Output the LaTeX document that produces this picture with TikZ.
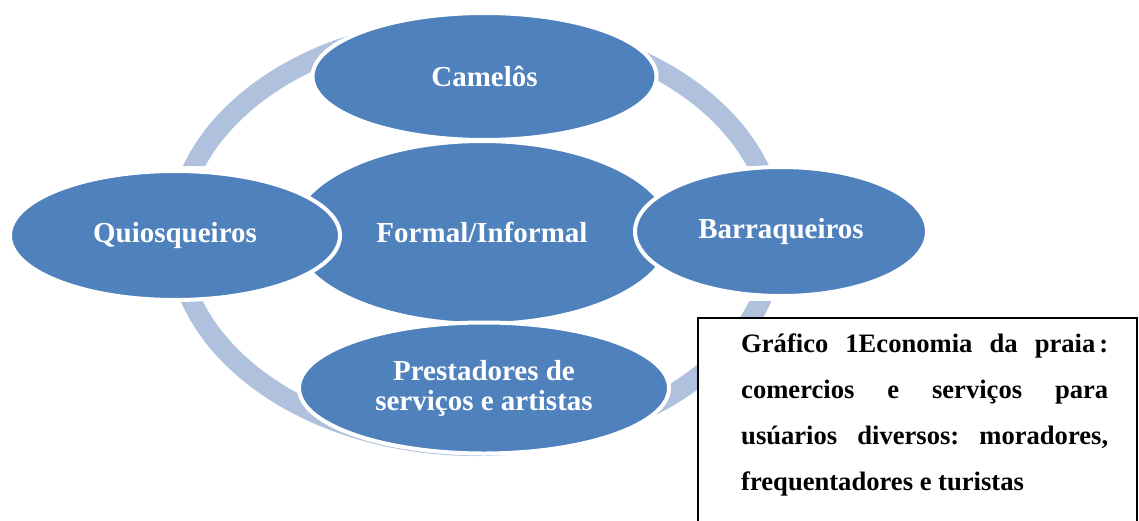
\documentclass[tikz,border=0pt]{standalone}
\usepackage{fontspec}
\setmainfont{Liberation Serif}
\usepackage{xcolor}
\usetikzlibrary{shapes.geometric}
\definecolor{bubbleblue}{HTML}{4F81BD}
\definecolor{ringblue}{HTML}{AFC1DD}
\tikzset{
  bubble/.style={ellipse, fill=bubbleblue, draw=white, line width=4pt, inner sep=0pt,
    text=white, align=center, font=\fontsize{29}{30}\selectfont\bfseries},
  legendbox/.style={draw=black, line width=1.5pt, fill=white}
}
\frenchspacing
\begin{document}
\begin{tikzpicture}[x=1pt,y=-1pt]
\useasboundingbox (0,0) rectangle (1139,520);
\begin{scope}
\clip (0,0) rectangle (1139,166) (0,301) rectangle (1139,520);
\draw[ringblue, line width=20pt] (476,236) ellipse [x radius=299pt, y radius=210pt];
\end{scope}
\node[bubble, minimum width=380pt, minimum height=183pt] (formal) at (482,232.5) {Formal/Informal};
\node[bubble, minimum width=344pt, minimum height=127pt] (camelos) at (484.5,76.5) {Camelôs};
\node[bubble, minimum width=330pt, minimum height=129pt] (quiosqueiros) at (175,235.5) {Quiosqueiros};
\node[bubble, minimum width=292pt, minimum height=129pt] (barraqueiros) at (781,231.5) {Barraqueiros};
\node[bubble, minimum width=370pt, minimum height=131pt] (prestadores) at (484,388) {Prestadores de\\serviços e artistas};
\draw[legendbox] (698,318) rectangle (1137,530);
\node[anchor=north west, inner sep=0pt, text width=367pt, align=justify,
  font=\fontsize{26.6}{46}\selectfont\bfseries] (caption) at (741,334)
  {Gráfico 1Economia da praia\kern4pt:\linebreak comercios e serviços para\linebreak usúarios diversos: moradores,\linebreak frequentadores e turistas};
\end{tikzpicture}
\end{document}
